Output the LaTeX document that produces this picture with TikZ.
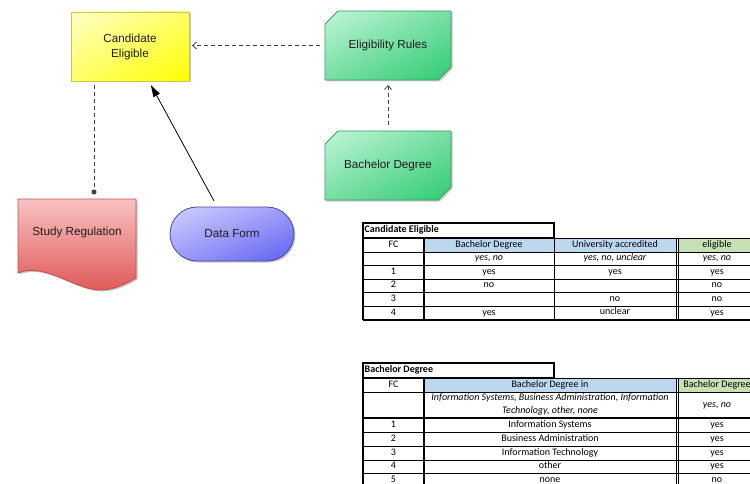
\documentclass[tikz,border=0pt]{standalone}
\usepackage{fontspec}
\setmainfont{Liberation Sans}
\newfontfamily\tabfont{Carlito}
\usetikzlibrary{shapes.misc,shadows,shadings,arrows.meta}

\definecolor{yelLight}{HTML}{FFFFC8}
\definecolor{yelMid}{HTML}{FFFF66}
\definecolor{yelDark}{HTML}{FFFF00}
\definecolor{yelLine}{HTML}{C8C850}
\definecolor{grnLight}{HTML}{C0F6D8}
\definecolor{grnMid}{HTML}{78DEA4}
\definecolor{grnDark}{HTML}{2ECC71}
\definecolor{grnLine}{HTML}{3C9C64}
\definecolor{bluLight}{HTML}{D0D0FF}
\definecolor{bluMid}{HTML}{9C9CFA}
\definecolor{bluDark}{HTML}{5E5EF2}
\definecolor{bluLine}{HTML}{48489C}
\definecolor{redLight}{HTML}{F9C2C2}
\definecolor{redDark}{HTML}{E05A5A}
\definecolor{redLine}{HTML}{C45050}
\definecolor{hdrBlue}{HTML}{BDD7EE}
\definecolor{hdrGreen}{HTML}{C6E0B4}
\definecolor{ink}{HTML}{1E1E1E}

\begin{document}
\begin{tikzpicture}[x=1pt,y=-1pt,
  lbl/.style={text=ink, font=\fontsize{11.7}{15}\selectfont, align=center,
    inner sep=0pt, outer sep=0pt},
  boxshadow/.style={drop shadow={shadow xshift=1.5pt, shadow yshift=-1.5pt,
    fill=black!45, opacity=0.5}},
  yelbox/.style={lbl, rectangle, shade, draw=yelLine, line width=0.8pt,
    upper left=yelLight, upper right=yelMid, lower left=yelMid, lower right=yelDark,
    boxshadow, minimum width=118pt, minimum height=69pt},
  grnshape/.style={shade, draw=grnLine, line width=0.8pt,
    upper left=grnLight, upper right=grnMid, lower left=grnMid, lower right=grnDark,
    boxshadow},
  redshape/.style={shade, draw=redLine, line width=0.8pt,
    top color=redLight, middle color=redDark, bottom color=redDark, boxshadow},
  blubox/.style={lbl, rounded rectangle, shade, draw=bluLine, line width=0.8pt,
    upper left=bluLight, upper right=bluMid, lower left=bluMid, lower right=bluDark,
    boxshadow, minimum width=124pt, minimum height=54pt},
  dashline/.style={draw=black!75, line width=0.8pt, dash pattern=on 4pt off 3pt},
  tline/.style={draw=black, line width=0.9pt},
  touter/.style={draw=black, line width=1.5pt},
  tcell/.style={inner sep=0pt, text=black, text height=6.8pt, text depth=2.2pt,
    font=\tabfont\fontsize{10}{12.5}\selectfont},
  titem/.style={tcell, font=\tabfont\itshape\fontsize{10}{12.5}\selectfont},
  ttitle/.style={tcell, font=\tabfont\bfseries\fontsize{10}{12.5}\selectfont}
]
\useasboundingbox (0,0) rectangle (750,484);

% ---------- diagram shapes ----------
\node[yelbox] (cand) at (130,46.5) {Candidate\\Eligible};

\path[grnshape] (325,24) -- (338,11) -- (451,11) -- (451,67) -- (438,80) -- (325,80) -- cycle;
\node[lbl, minimum width=126pt, minimum height=69pt] (rules) at (388,45.5) {Eligibility Rules};

\path[grnshape] (325,144) -- (338,131) -- (451,131) -- (451,187) -- (438,200) -- (325,200) -- cycle;
\node[lbl, minimum width=126pt, minimum height=69pt] (bach) at (388,165.5) {Bachelor Degree};

\path[redshape] (18,199) -- (136,199) -- (136,278)
  .. controls (122,286) and (112,290) .. (100,290)
  .. controls (75,290) and (45,262) .. (18,273) -- cycle;
\node[lbl, minimum width=118pt, minimum height=66pt] (study) at (77,232) {Study Regulation};

\node[blubox] (form) at (232,234) {Data Form};

% ---------- connectors ----------
\draw[dashline, -{Straight Barb[length=4pt,width=7pt]}, shorten <=5pt, shorten >=3pt]
  (rules.west) -- (rules.west -| cand.east);
\draw[dashline, -{Straight Barb[length=4pt,width=7pt]}, shorten <=6pt, shorten >=5pt]
  (bach.north) -- (rules.south);
\draw[dashline, -{Circle[length=5pt]}, shorten <=4pt, shorten >=4.5pt]
  ([xshift=-36pt]cand.south) -- ([xshift=-36pt]cand.south |- study.north);
\draw[line width=0.8pt, -{Triangle[length=12pt,width=7pt]}, shorten <=7pt, shorten >=4.5pt]
  (form) -- (cand);

% ---------- decision table: Candidate Eligible ----------
\fill[hdrBlue] (424,238) rectangle (676,252);
\fill[hdrGreen] (678.5,238) rectangle (760,252);
\foreach \y in {238,252,279,292,306} \draw[tline] (363,\y) -- (760,\y);
\draw[tline, line width=1.6pt] (363,265.5) -- (760,265.5);
\draw[touter] (363,320) -- (760,320);
\draw[touter] (363,238) -- (363,320);
\draw[tline, line width=1.2pt] (424,238) -- (424,320);
\draw[tline] (554,238) -- (554,320);
\draw[tline] (676,238) -- (676,320);
\draw[tline] (678.5,238) -- (678.5,320);
\draw[touter, fill=white] (363,223) rectangle (554,238);

\node[ttitle, anchor=west] (ceTitle) at (364.5,230.5) {Candidate Eligible};
\node[tcell] (ceFC) at (393.5,245) {FC};
\node[tcell] (ceBD) at (489,245) {Bachelor Degree};
\node[tcell] (ceUA) at (615,245) {University accredited};
\node[tcell] (ceEL) at (717,245) {eligible};
\node[titem] (ceBDv) at (489,258.5) {yes, no};
\node[titem] (ceUAv) at (615,258.5) {yes, no, unclear};
\node[titem] (ceELv) at (717,258.5) {yes, no};
\node[tcell] (ceR1) at (393.5,272) {1};
\node[tcell] (ceR1a) at (489,272) {yes};
\node[tcell] (ceR1b) at (615,272) {yes};
\node[tcell] (ceR1c) at (717,272) {yes};
\node[tcell] (ceR2) at (393.5,285.5) {2};
\node[tcell] (ceR2a) at (489,285.5) {no};
\node[tcell] (ceR2c) at (717,285.5) {no};
\node[tcell] (ceR3) at (393.5,299) {3};
\node[tcell] (ceR3b) at (615,299) {no};
\node[tcell] (ceR3c) at (717,299) {no};
\node[tcell] (ceR4) at (393.5,313) {4};
\node[tcell] (ceR4a) at (489,313) {yes};
\node[tcell] (ceR4b) at (615,312) {unclear};
\node[tcell] (ceR4c) at (717,313.5) {yes};

% ---------- decision table: Bachelor Degree ----------
\fill[hdrBlue] (424,378) rectangle (676,392);
\fill[hdrGreen] (678.5,378) rectangle (760,392);
\foreach \y in {378,392,432,446,460,473.5} \draw[tline] (363,\y) -- (760,\y);
\draw[tline, line width=1.6pt] (363,418) -- (760,418);
\draw[touter] (363,378) -- (363,490);
\draw[tline, line width=1.2pt] (424,378) -- (424,490);
\draw[tline] (676,378) -- (676,490);
\draw[tline] (678.5,378) -- (678.5,490);
\draw[touter, fill=white] (363,363) rectangle (554,378);

\node[ttitle, anchor=west] (bdTitle) at (364.5,370.5) {Bachelor Degree};
\node[tcell] (bdFC) at (393.5,385) {FC};
\node[tcell] (bdIn) at (550,385) {Bachelor Degree in};
\node[tcell] (bdOut) at (717,385) {Bachelor Degree};
\node[titem, align=center, text height=, text depth=] (bdInv) at (550,404.5)
  {Information Systems, Business Administration, Information\\Technology, other, none};
\node[titem] (bdOutv) at (717,405) {yes, no};
\node[tcell] (bdR1) at (393.5,425) {1};
\node[tcell] (bdR1a) at (550,425) {Information Systems};
\node[tcell] (bdR1b) at (717,425) {yes};
\node[tcell] (bdR2) at (393.5,439) {2};
\node[tcell] (bdR2a) at (550,439) {Business Administration};
\node[tcell] (bdR2b) at (717,439) {yes};
\node[tcell] (bdR3) at (393.5,453) {3};
\node[tcell] (bdR3a) at (550,453) {Information Technology};
\node[tcell] (bdR3b) at (717,453) {yes};
\node[tcell] (bdR4) at (393.5,466.5) {4};
\node[tcell] (bdR4a) at (550,466.5) {other};
\node[tcell] (bdR4b) at (717,466.5) {yes};
\node[tcell] (bdR5) at (393.5,480) {5};
\node[tcell] (bdR5a) at (550,480) {none};
\node[tcell] (bdR5b) at (717,480) {no};
\end{tikzpicture}
\end{document}
